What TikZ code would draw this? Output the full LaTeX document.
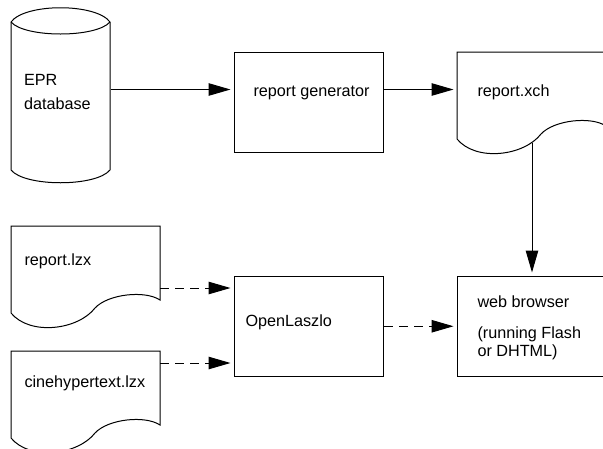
\documentclass[tikz,border=0pt]{standalone}
\usepackage{fontspec}
\setmainfont{Liberation Sans}
\usetikzlibrary{arrows.meta}
\begin{document}
\begin{tikzpicture}[x=1pt,y=-1pt,line width=1pt,
  every node/.style={font=\fontsize{16.2}{18.5}\selectfont,inner sep=0pt},
  lbl/.style={anchor=base west},
  boxnode/.style={draw,rectangle,minimum width=149pt,minimum height=99.5pt,anchor=north west},
  ghost/.style={rectangle,anchor=north west},
  flow/.style={-{Triangle[length=22pt,width=12.5pt]},shorten >=3.5pt},
  dflow/.style={flow,dash pattern=on 9pt off 6pt},
  docshape/.pic={\draw (0,0) -- (0,87) .. controls (19,110) and (67,104) .. (84,82)
     .. controls (97,68) and (134,64) .. (149,74) -- (149,0) -- cycle;}]
\useasboundingbox (0,0) rectangle (603,448);
\clip (0,0) rectangle (603,448);

% cylinder
\draw (11,22) .. controls (25,3) and (96,3) .. (110,22) -- (110,170)
  .. controls (96,187) and (25,187) .. (11,170) -- cycle;
\draw (11,22) .. controls (25,38) and (96,38) .. (110,22);
\node[ghost,minimum width=99pt,minimum height=148pt] (db) at (11,22) {};

% boxes
\node[boxnode] (gen) at (234,52) {};
\node[boxnode] (osl) at (234,276) {};
\node[boxnode] (web) at (457,276) {};

% documents
\pic at (457,52) {docshape};
\node[ghost,minimum width=149pt,minimum height=88pt] (xch) at (457,52) {};
\pic at (11,226) {docshape};
\node[ghost,minimum width=149pt,minimum height=87pt] (lzx) at (11,226) {};
\pic at (11,351) {docshape};
\node[ghost,minimum width=149pt,minimum height=87pt] (cine) at (11,351) {};

% texts
\node[lbl] (t1) at (23.5,85) {EPR};
\node[lbl] (t2) at (23.5,109) {database};
\node[lbl] (t3) at (253,96.5) {report generator};
\node[lbl] (t4) at (477,96.5) {report.xch};
\node[lbl] (t5) at (24,265) {report.lzx};
\node[lbl] (t6) at (24,387) {cinehypertext.lzx};
\node[lbl] (t7) at (245,326) {OpenLaszlo};
\node[lbl] (t8) at (477,307) {web browser};
\node[lbl] (t9) at (477,338) {(running Flash};
\node[lbl] (t10) at (477,356.5) {or DHTML)};

% connectors
\coordinate (a1) at ([yshift=7pt]db.east);
\draw[flow] (a1) -- (a1 -| gen.west);
\coordinate (a2) at (gen.east |- a1);
\draw[flow] (a2) -- (a2 -| xch.west);
\coordinate (a3) at (532,142.5);
\draw[flow] (a3) -- (a3 |- web.north);
\coordinate (a4) at (160,288);
\draw[dflow] (a4) -- (a4 -| osl.west);
\coordinate (a5) at (160,363);
\draw[dflow] (a5) -- (a5 -| osl.west);
\draw[dflow] (osl.east) -- (web.west);
\end{tikzpicture}
\end{document}
